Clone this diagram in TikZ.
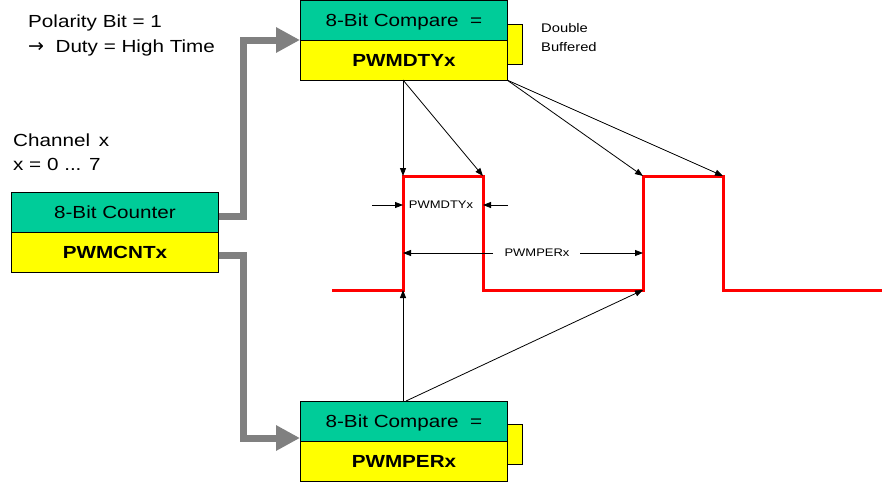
\documentclass[tikz,border=0pt]{standalone}
\usepackage{fontspec}
\setmainfont{Liberation Sans}[FakeStretch=1.18]
\newfontfamily\arrowfont{DejaVu Sans}
\usetikzlibrary{arrows.meta}
\definecolor{grn}{HTML}{00CC99}
\definecolor{yel}{HTML}{FFFF00}
\definecolor{gry}{HTML}{808080}
\definecolor{wred}{HTML}{FF0000}
\tikzset{
  regbox/.style={draw=black, line width=0.9pt, rectangle, inner sep=0pt, minimum width=207pt, minimum height=40pt, anchor=north west, text height=12.5pt, text depth=0pt},
  upper/.style={regbox, fill=grn, font=\fontsize{17.5}{20}\selectfont},
  lower/.style={regbox, fill=yel, font=\fontsize{17.5}{20}\selectfont\bfseries},
  bufbox/.style={draw=black, line width=0.9pt, fill=yel, inner sep=0pt, minimum width=15pt, minimum height=40pt, anchor=north west},
  lbl/.style={inner sep=0pt, anchor=base west, font=\fontsize{17.5}{20}\selectfont},
  small/.style={inner sep=0pt, font=\fontsize{11}{13}\selectfont},
  thick gray/.style={draw=gry, line width=7pt, -{Triangle[length=24pt 0,width=24pt 0]}},
  ptr/.style={draw=black, line width=0.8pt, -{Triangle[length=8pt 0,width=6pt 0]}},
  wave/.style={draw=wred, line width=3pt, line join=miter}
}
\begin{document}
\begin{tikzpicture}[x=1pt,y=-1pt]
\useasboundingbox (0,0) rectangle (885,485);
\fill[white] (0,0) rectangle (885,485);

% text labels
\node[lbl] (pol1) at (28,27) {Polarity Bit = 1};
\node[lbl] (pol2) at (28,52) {{\arrowfont\fontsize{19}{20}\selectfont →}\ \ Duty = High Time};
\node[lbl] (ch1) at (13,146) {Channel\, x};
\node[lbl] (ch2) at (13,170) {x = 0 ... 7};

% top register
\node[upper] (dtyA) at (300,0) {8-Bit Compare\ \ =};
\node[lower] (dtyB) at (300,40) {PWMDTYx};
\node[bufbox] (dtyC) at (507,24) {};
\node[inner sep=0pt, anchor=north west, align=left, font=\fontsize{12.5}{19}\selectfont] (dbuf) at (541,23) {Double\\Buffered};

% counter
\node[upper] (cntA) at (11,192) {8-Bit Counter};
\node[lower] (cntB) at (11,232) {PWMCNTx};

% bottom register
\node[upper] (perA) at (300,401) {8-Bit Compare\ \ =};
\node[lower] (perB) at (300,441) {PWMPERx};
\node[bufbox] (perC) at (507,424) {};

% gray arrows
\draw[thick gray] (cntA.east |- 0,216) -- (243,216) -- (243,40) -- (dtyA.west |- 0,40);
\draw[thick gray] (cntB.east |- 0,255) -- (243,255) -- (243,438) -- (perA.west |- 0,438);

% waveform
\coordinate (w0) at (332,290);
\coordinate (r1b) at (403,290);
\coordinate (r1t) at (403,176);
\coordinate (f1t) at (483,176);
\coordinate (f1b) at (483,290);
\coordinate (r2b) at (643,290);
\coordinate (r2t) at (643,176);
\coordinate (f2t) at (723,176);
\coordinate (f2b) at (723,290);
\coordinate (w9) at (882,290);
\draw[wave] (w0) -- (r1b) -- (r1t) -- (f1t) -- (f1b) -- (r2b) -- (r2t) -- (f2t) -- (f2b) -- (w9);

% pointers from top register
\coordinate (t1) at (403,80);
\coordinate (t2) at (507,80);
\draw[ptr] (t1) -- (r1t);
\draw[ptr] (t1) -- (f1t);
\draw[ptr] (t2) -- (r2t);
\draw[ptr] (t2) -- (f2t);

% pointers from bottom register
\coordinate (b1) at (403,401);
\coordinate (b2) at (406,401);
\draw[ptr] (b1) -- (r1b);
\draw[ptr] (b2) -- (r2b);

% PWMDTYx dimension
\node[small] (dtylbl) at (441,205) {PWMDTYx};
\coordinate (d1) at (372,205);
\coordinate (d2) at (508,205);
\draw[ptr] (d1) -- (r1t |- d1);
\draw[ptr] (d2) -- (f1t |- d2);

% PWMPERx dimension
\node[small] (perlbl) at (537,253) {PWMPERx};
\coordinate (p1) at (493,253);
\coordinate (p2) at (580,253);
\draw[ptr] (p1) -- (r1t |- p1);
\draw[ptr] (p2) -- (r2t |- p2);
\end{tikzpicture}
\end{document}
